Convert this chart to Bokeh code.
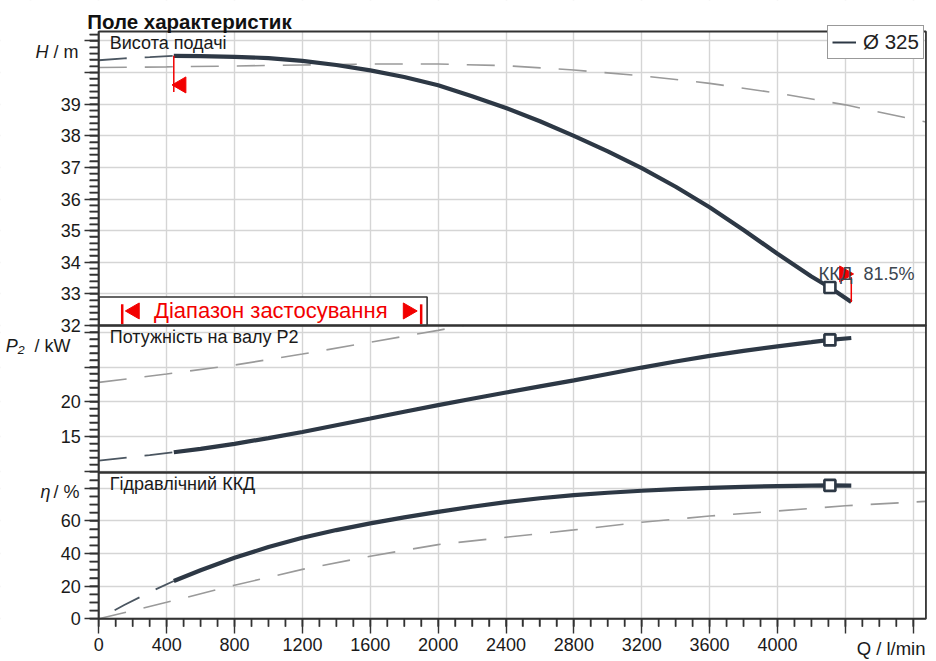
import math
from bokeh.plotting import figure
from bokeh.models import (Range1d, LinearAxis, SingleIntervalTicker, Grid,
                          Label, BoxAnnotation, Legend, LegendItem)
from bokeh.embed import file_html
from bokeh.resources import INLINE

# ---------------- data ----------------
q_main = [442, 600, 800, 1000, 1200, 1400, 1600, 1800, 2000, 2200, 2400,
          2600, 2800, 3000, 3200, 3400, 3600, 3800, 4000, 4200, 4309, 4435]
h_main = [40.53, 40.52, 40.50, 40.46, 40.37, 40.24, 40.07, 39.86, 39.60, 39.25, 38.88,
          38.46, 38.00, 37.51, 36.98, 36.39, 35.74, 35.02, 34.27, 33.55, 33.20, 32.74]
p_main = [12.80, 13.29, 14.00, 14.82, 15.70, 16.67, 17.63, 18.60, 19.55, 20.45, 21.35,
          22.22, 23.08, 24.00, 24.92, 25.78, 26.60, 27.30, 27.95, 28.55, 28.88, 29.15]
eta_main = [23.2, 29.8, 37.4, 44.0, 49.7, 54.4, 58.5, 62.2, 65.6, 68.7, 71.5,
            73.9, 75.8, 77.3, 78.5, 79.5, 80.3, 80.9, 81.4, 81.7, 81.8, 81.7]

q_ext = [0, 150, 300, 442]
h_ext = [40.39, 40.45, 40.49, 40.53]
p_ext = [11.60, 12.00, 12.40, 12.80]
eta_ext = [0.0, 8.5, 16.3, 23.2]

q_alt = [0, 400, 800, 1200, 1600, 2000, 2400, 2800, 3200, 3600, 4000, 4400, 4875]
h_alt = [40.16, 40.18, 40.21, 40.24, 40.27, 40.27, 40.22, 40.08, 39.90, 39.66, 39.35, 38.98, 38.44]
eta_alt = [0.0, 10.1, 20.6, 30.3, 38.4, 45.5, 50.0, 54.5, 59.2, 63.0, 66.1, 69.3, 72.0]
q_alt_p = [0, 400, 800, 1200, 1600, 2000, 2150]
p_alt = [22.80, 24.00, 25.28, 26.85, 28.55, 30.24, 30.94]

OP = 20                 # index of the operating point (Q = 4309 l/min)
eff_label = "81.5%"
diameter_label = "Ø 325"
range_q = [138, 1900]   # application range limits, l/min

Q_END = 4875
H_LIM, P_LIM, E_LIM = (32.0, 41.3), (9.9, 30.94), (0.0, 89.7)
x_hidden = [4400, 4800]
h_hidden = [40, 41]
p_hidden = [10, 25, 30]
e_hidden = [80]
x_minor = list(range(0, 4801, 100))
h_minor = [round(32 + 0.2 * i, 1) for i in range(47)]
p_minor = list(range(10, 31))
e_minor = list(range(0, 86, 5))

# ---------------- layout / style ----------------
W, HT = 930, 660
X0_PX, PX_PER_Q = 98.3, 0.16967
H_BAND, P_BAND, E_BAND = (31, 325), (325, 472), (472, 618.3)
MINOR_Y_PX, MINOR_X_PX = 9, 8

FONT = "Liberation Sans"
DARK = "#2d3845"
EXT = "#4b5661"
GRAY = "#9a9a9a"
RED = "#f20000"
GRID = "#d5d5d5"
FRAME = "#333333"
TXT = "#1a1a1a"
DASH = "28 18"
TICK_FONT = "18px"


def band(lim, b):
    lo, hi = lim
    top, bot = b
    s = (bot - top) / (hi - lo)
    return Range1d(lo - (HT - bot) / s, hi + top / s), s


yr_h, s_h = band(H_LIM, H_BAND)
yr_p, s_p = band(P_LIM, P_BAND)
yr_e, s_e = band(E_LIM, E_BAND)

p = figure(width=W, height=HT,
           x_range=Range1d(-X0_PX / PX_PER_Q, (W - X0_PX) / PX_PER_Q),
           y_range=yr_h,
           x_axis_location=None, y_axis_location=None, min_border=0,
           output_backend="svg", toolbar_location=None)
p.extra_y_ranges = {"p": yr_p, "eta": yr_e}
p.outline_line_color = None
p.background_fill_color = "white"
p.border_fill_color = "white"
p.center = [r for r in p.center if not isinstance(r, Grid)]


def style_axis(a, hidden, tick_out, minor_out, standoff):
    a.major_label_overrides = {t: "" for t in hidden}
    a.major_tick_out = tick_out
    a.major_tick_in = 0
    a.minor_tick_out = minor_out
    a.minor_tick_in = 0
    a.minor_tick_line_color = FRAME
    a.minor_tick_line_width = 1.4
    a.major_label_standoff = standoff
    a.axis_line_color = FRAME
    a.axis_line_width = 1.6
    a.major_tick_line_color = FRAME
    a.major_tick_line_width = 1.4
    a.major_label_text_font = FONT
    a.major_label_text_font_size = TICK_FONT
    a.major_label_text_color = TXT
    return a


ax_h = style_axis(LinearAxis(fixed_location=0, bounds=H_LIM,
                             ticker=SingleIntervalTicker(interval=1, num_minor_ticks=5)),
                  h_hidden, 14, MINOR_Y_PX, 4)
ax_p = style_axis(LinearAxis(fixed_location=0, bounds=P_LIM, y_range_name="p",
                             ticker=SingleIntervalTicker(interval=5, num_minor_ticks=5)),
                  p_hidden, 14, MINOR_Y_PX, 4)
ax_e = style_axis(LinearAxis(fixed_location=0, bounds=E_LIM, y_range_name="eta",
                             ticker=SingleIntervalTicker(interval=20, num_minor_ticks=4)),
                  e_hidden, 14, MINOR_Y_PX, 4)
ax_x = style_axis(LinearAxis(fixed_location=0, bounds=(0, Q_END), y_range_name="eta",
                             ticker=SingleIntervalTicker(interval=400, num_minor_ticks=4)),
                  x_hidden, 15, MINOR_X_PX, 4)
for a in (ax_h, ax_p, ax_e):
    p.add_layout(a, "left")
p.add_layout(ax_x, "below")

for g in (Grid(dimension=0, axis=ax_x),
          Grid(dimension=1, axis=ax_h),
          Grid(dimension=1, axis=ax_p, y_range_name="p"),
          Grid(dimension=1, axis=ax_e, y_range_name="eta")):
    g.grid_line_color = GRID
    g.grid_line_width = 1.4
    g.minor_grid_line_color = None
    p.add_layout(g)

# white masks keep grid lines inside the three panels
for kw in (dict(right=0), dict(left=Q_END), dict(bottom=H_LIM[1]),
           dict(top=0, y_range_name="eta")):
    p.add_layout(BoxAnnotation(level="underlay", fill_color="white", fill_alpha=1.0,
                               line_alpha=0, **kw))

# application-range box (under the red marks)
p.add_layout(BoxAnnotation(level="underlay", left=0, right=1935, bottom=H_LIM[0], top=32.9,
                           fill_color="white", fill_alpha=1.0,
                           line_color=FRAME, line_width=1.6, line_alpha=1.0))

# short (minor) tick marks, drawn outward from the axis lines, on top of everything
dx = -MINOR_Y_PX / PX_PER_Q
for ticks, name in ((h_minor, "default"), (p_minor, "p"), (e_minor, "eta")):
    p.segment(x0=[0] * len(ticks), y0=ticks, x1=[dx] * len(ticks), y1=ticks,
              y_range_name=name, line_color=FRAME, line_width=1.5, level="overlay")
p.segment(x0=x_minor, y0=[0] * len(x_minor), x1=x_minor,
          y1=[-MINOR_X_PX / s_e] * len(x_minor), y_range_name="eta",
          line_color=FRAME, line_width=1.5, level="overlay")

# ---------------- head ----------------
p.line(q_alt, h_alt, line_color=GRAY, line_width=1.6, line_dash=DASH)
p.line(q_ext, h_ext, line_color=EXT, line_width=1.8, line_dash=DASH)
p.line(q_main, h_main, line_color=DARK, line_width=4.2)
p.scatter([q_main[OP]], [h_main[OP]], marker="square", size=11,
          fill_color="white", line_color=DARK, line_width=2.6)
p.segment(x0=[q_main[0]], y0=[h_main[0]], x1=[q_main[0]], y1=[39.39],
          line_color=RED, line_width=1.5)
p.scatter([486], [39.61], marker="triangle", angle=math.pi / 2, size=16,
          fill_color=RED, line_color=RED)
p.segment(x0=[q_main[-1]], y0=[33.53], x1=[q_main[-1]], y1=[h_main[-1]],
          line_color=RED, line_width=1.5)
p.scatter([4394], [33.63], marker="triangle", angle=-math.pi / 2, size=16,
          fill_color=RED, line_color=RED)
p.segment(x0=range_q, y0=[32.04, 32.04], x1=range_q, y1=[32.67, 32.67],
          line_color=RED, line_width=2.5)
p.scatter([211], [32.46], marker="triangle", angle=math.pi / 2, size=16,
          fill_color=RED, line_color=RED)
p.scatter([1822], [32.46], marker="triangle", angle=-math.pi / 2, size=16,
          fill_color=RED, line_color=RED)

# ---------------- shaft power ----------------
p.line(q_alt_p, p_alt, line_color=GRAY, line_width=1.6, line_dash=DASH, y_range_name="p")
p.line(q_ext, p_ext, line_color=EXT, line_width=1.8, line_dash=DASH, y_range_name="p")
p.line(q_main, p_main, line_color=DARK, line_width=4.2, y_range_name="p")
p.scatter([q_main[OP]], [p_main[OP]], marker="square", size=11, y_range_name="p",
          fill_color="white", line_color=DARK, line_width=2.6)

# ---------------- efficiency ----------------
p.line(q_alt, eta_alt, line_color=GRAY, line_width=1.6, line_dash=DASH, y_range_name="eta")
p.line(q_ext, eta_ext, line_color=EXT, line_width=1.8, line_dash=DASH,
       line_dash_offset=28, y_range_name="eta")
p.line(q_main, eta_main, line_color=DARK, line_width=4.2, y_range_name="eta")
p.scatter([q_main[OP]], [eta_main[OP]], marker="square", size=11, y_range_name="eta",
          fill_color="white", line_color=DARK, line_width=2.6)

# ---------------- panel frames ----------------
for lim, name in ((H_LIM, "default"), (P_LIM, "p"), (E_LIM, "eta")):
    p.add_layout(BoxAnnotation(left=0, right=Q_END, bottom=lim[0], top=lim[1],
                               y_range_name=name, fill_color=None,
                               line_color=FRAME, line_width=1.8, line_alpha=1.0))

# ---------------- legend ----------------
nan = float("nan")
dummy = p.line(x=[nan, nan], y=[nan, nan], line_color=DARK, line_width=2)
p.add_layout(Legend(items=[LegendItem(label=diameter_label, renderers=[dummy])],
                    location=(827, HT - 59), padding=4, spacing=0, margin=0,
                    label_standoff=7, glyph_width=24, glyph_height=20, label_height=20,
                    label_text_font=FONT, label_text_font_size="20.5px",
                    label_text_color="#222222", border_line_color=FRAME,
                    border_line_width=1.5, background_fill_color="white",
                    background_fill_alpha=1.0))


# ---------------- texts ----------------
def txt(s, px, py, size="18px", color=TXT, align="left", style="normal", baseline="middle"):
    p.add_layout(Label(x=px, y=HT - py, x_units="screen", y_units="screen", text=s,
                       text_font=FONT, text_font_size=size, text_color=color,
                       text_align=align, text_font_style=style, text_baseline=baseline))


txt("Поле характеристик", 86.7, 20.5, size="20.5px", style="bold", color="#111111",
    baseline="alphabetic")
txt("Висота подачі", 109.3, 42.7)
txt("H", 48, 51, style="italic", align="right")
txt("/ m", 78, 51, align="right")
txt("Діапазон застосування", 270.3, 310, size="22px", color=RED, align="center")
txt("ККД", 818, 273, size="18.5px", color="#3c4650")
txt(eff_label, 863, 273, size="18px", color="#3c4650")
txt("Потужність на валу  P2", 109.3, 336.7)
txt("P₂", 24, 345, style="italic", align="right")
txt("/ kW", 70, 345, align="right")
txt("Гідравлічний ККД", 109.3, 483.3)
txt("η", 50, 491.7, style="italic", align="right")
txt("/ %", 79, 491.7, align="right")
txt("Q / l/min", 925, 647.7, size="18.5px", align="right")

open("out.html", "w").write(file_html(p, INLINE))
